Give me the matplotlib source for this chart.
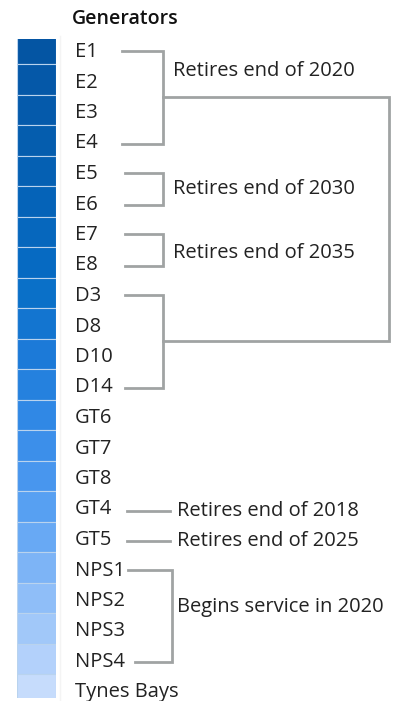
import matplotlib
matplotlib.use("Agg")
import matplotlib.pyplot as plt
from matplotlib.patches import Rectangle

generators = ["E1", "E2", "E3", "E4", "E5", "E6", "E7", "E8",
              "D3", "D8", "D10", "D14",
              "GT6", "GT7", "GT8", "GT4", "GT5",
              "NPS1", "NPS2", "NPS3", "NPS4", "Tynes Bays"]
colors = ["#0455a3", "#0558a8", "#055aab", "#055dae", "#0560b3", "#0563b8",
          "#0667bd", "#066ac2", "#0a70c8", "#1375d0", "#1c7ad8", "#2581de",
          "#3088e5", "#3c8fea", "#4896ee", "#57a0f2", "#68a9f4",
          "#7db4f6", "#8fbef8", "#a1c8f9", "#b3d1fb", "#c6dcfc"]

# bracket groups: (first, last, note)
groups = [("E1", "E4", "Retires end of 2020"),
          ("E5", "E6", "Retires end of 2030"),
          ("E7", "E8", "Retires end of 2035"),
          ("D3", "D14", None),
          ("NPS1", "NPS4", "Begins service in 2020")]
singles = [("GT4", "Retires end of 2018"),
           ("GT5", "Retires end of 2025")]

plt.rcParams['font.family'] = ['Open Sans', 'DejaVu Sans']
fs = 14.5

fig = plt.figure(figsize=(4.09, 7.01), dpi=100)
ax = fig.add_axes([0, 0, 1, 1])
ax.set_xlim(0, 409)
ax.set_ylim(701, 0)
ax.axis('off')

step = 30.5
y0 = 49
ys = [y0 + step * i for i in range(len(generators))]
pos = dict(zip(generators, ys))

bars = ax.bar([36.5] * len(ys), [step] * len(ys), width=39, bottom=[y - step / 2 for y in ys],
              color=colors, edgecolor="#b9d3ee", linewidth=0.8)
clip = Rectangle((17, 39), 39, 659, transform=ax.transData)
for b in bars:
    b.set_clip_path(clip)
ax.plot([60, 60], [36, 700], color="#f4f4f4", lw=1)

for name, y in zip(generators, ys):
    ax.text(75, y + 3, name, fontsize=fs, color="#222222", va="center", ha="left")

ax.text(72, 19, "Generators", fontsize=14, fontweight="semibold", color="#111111",
        va="center", ha="left")

gray = "#a0a3a3"
lw = 2.0
starts = {"E1": 122, "E4": 122, "E5": 125, "E6": 125, "E7": 125, "E8": 125,
          "D3": 125, "D14": 125, "NPS1": 128, "NPS4": 135}
vx = {"E1": 163, "E5": 163, "E7": 163, "D3": 163, "NPS1": 172}
text_y = {"E1": 71, "E5": 189, "E7": 253, "NPS1": 607}
mids = []
for a, b, note in groups:
    ya, yb = pos[a] + 2, pos[b] + 3
    x = vx[a]
    ax.plot([starts[a], x, x, starts[b]], [ya, ya, yb, yb], color=gray, lw=lw,
            solid_joinstyle="miter")
    mids.append((ya + yb) / 2)
    if note:
        ax.text(x + 10 if a != "NPS1" else x + 5, text_y[a], note, fontsize=fs,
                color="#222222", va="center", ha="left")

# long bracket linking 2020 retirements
bx = 389
ax.plot([163, bx, bx, 163], [mids[0], mids[0], mids[3], mids[3]], color=gray, lw=lw,
        solid_joinstyle="miter")

for name, note in singles:
    y = pos[name] + 4
    ax.plot([127, 170], [y, y], color=gray, lw=lw)
    ax.text(177, y, note, fontsize=fs, color="#222222", va="center", ha="left")

fig.savefig("out.png", dpi=100)
